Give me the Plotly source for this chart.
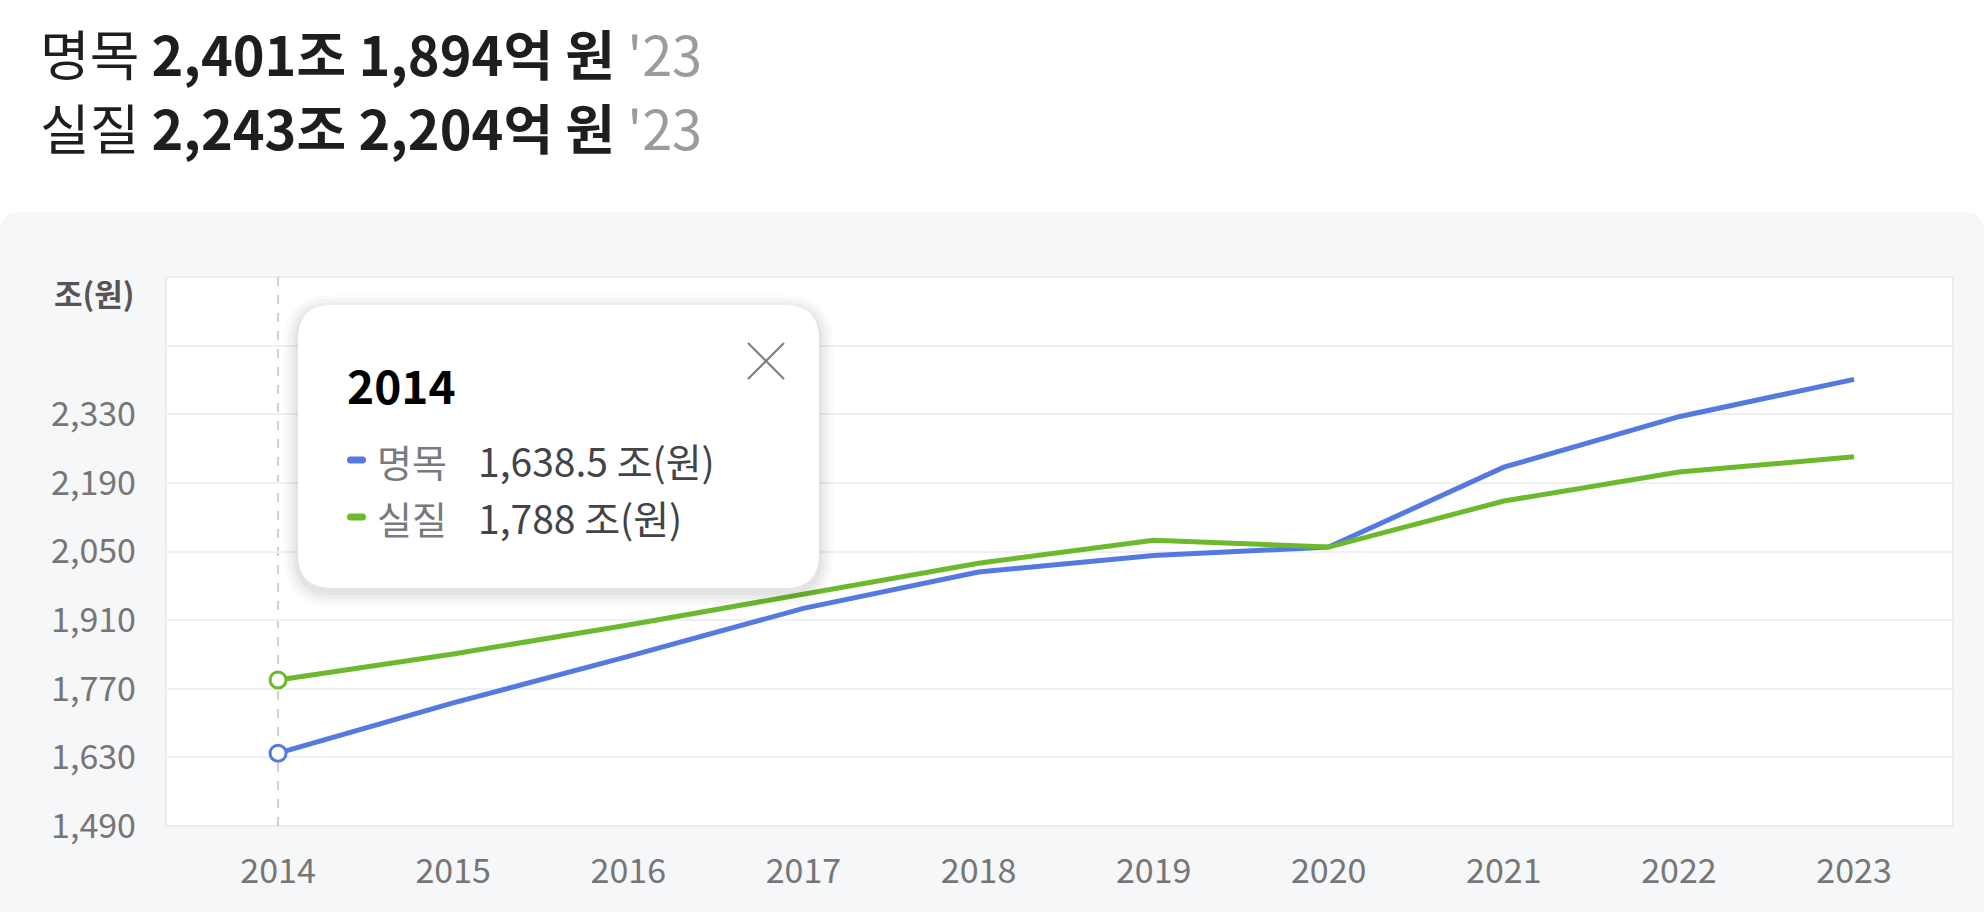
import plotly.graph_objects as go

# 연도별 GDP (조 원)
years = [2014, 2015, 2016, 2017, 2018, 2019, 2020, 2021, 2022, 2023]
nominal = [1638.5, 1741, 1836, 1934, 2008, 2042, 2059, 2222, 2325, 2401.2]
real = [1788, 1841, 1900, 1964, 2026, 2073, 2059, 2153, 2212, 2243.2]

y_ticks = [1490, 1630, 1770, 1910, 2050, 2190, 2330, 2470, 2610]
y_labels = ["1,490", "1,630", "1,770", "1,910", "2,050", "2,190", "2,330", "", ""]

header_1 = '명목 <b>2,401조 1,894억 원</b> <span style="color:#9b9b9b">\'23</span>'
header_2 = '실질 <b>2,243조 2,204억 원</b> <span style="color:#9b9b9b">\'23</span>'

BLUE = "#5479e0"
GREEN = "#6cb92c"
FONT = "Noto Sans CJK KR"

W, H = 1984, 912
L, R, T, B = 166, 1953, 277, 826


def px(x):
    return (x - L) / (R - L)


def py(y):
    return (B - y) / (B - T)


def round_rect(x0, y0, x1, y1, r, top_only=False):
    # 픽셀 좌표 -> paper 좌표의 둥근 사각형 path
    rx = r / (R - L)
    ry = r / (B - T)
    a, b, c, d = px(x0), py(y0), px(x1), py(y1)
    p = f"M {a + rx},{b} L {c - rx},{b} Q {c},{b} {c},{b - ry} "
    if top_only:
        p += f"L {c},{d} L {a},{d} "
    else:
        p += f"L {c},{d + ry} Q {c},{d} {c - rx},{d} L {a + rx},{d} Q {a},{d} {a},{d + ry} "
    p += f"L {a},{b - ry} Q {a},{b} {a + rx},{b} Z"
    return p


def fmt(v):
    return f"{v:,.1f}".rstrip("0").rstrip(".")


fig = go.Figure()

fig.add_trace(go.Scatter(x=years, y=nominal, mode="lines", name="명목",
                         line=dict(color=BLUE, width=5), hoverinfo="skip"))
fig.add_trace(go.Scatter(x=years, y=real, mode="lines", name="실질",
                         line=dict(color=GREEN, width=5), hoverinfo="skip"))
fig.add_trace(go.Scatter(x=[years[0], years[0]], y=[nominal[0], real[0]], mode="markers",
                         marker=dict(size=16, color="white",
                                     line=dict(color=[BLUE, GREEN], width=3)),
                         hoverinfo="skip"))

shapes = [
    # 회색 패널
    dict(type="path", xref="paper", yref="paper", layer="below",
         path=round_rect(0, 212, W, H + 20, 20, top_only=True),
         fillcolor="#f6f7f9", line=dict(width=0)),
    # 흰 플롯 영역
    dict(type="rect", xref="paper", yref="paper", layer="below",
         x0=0, x1=1, y0=0, y1=1, fillcolor="white", line=dict(color="#ededf0", width=2)),
    # 선택 연도 점선
    dict(type="line", xref="x", yref="paper", layer="below",
         x0=years[0], x1=years[0], y0=0, y1=1,
         line=dict(color="#cfcfd3", width=2, dash="dash")),
]

# 툴팁 그림자 + 박스
tx0, ty0, tx1, ty1 = 298, 305, 819, 588
for i, op in enumerate([0.018, 0.022, 0.028, 0.035]):
    g = 14 - i * 3.5
    shapes.append(dict(type="path", xref="paper", yref="paper", layer="above",
                       path=round_rect(tx0 - g, ty0 - g + 4, tx1 + g, ty1 + g + 4, 34 + g),
                       fillcolor=f"rgba(0,0,0,{op})", line=dict(width=0)))
shapes.append(dict(type="path", xref="paper", yref="paper", layer="above",
                   path=round_rect(tx0, ty0, tx1, ty1, 34),
                   fillcolor="white", line=dict(width=0)))
# 닫기 버튼
cx, cy, s = 766, 361, 18
shapes.append(dict(type="line", xref="paper", yref="paper", layer="above",
                   x0=px(cx - s), y0=py(cy - s), x1=px(cx + s), y1=py(cy + s),
                   line=dict(color="#7d7d7d", width=2)))
shapes.append(dict(type="line", xref="paper", yref="paper", layer="above",
                   x0=px(cx - s), y0=py(cy + s), x1=px(cx + s), y1=py(cy - s),
                   line=dict(color="#7d7d7d", width=2)))
# 범례 막대
row_y = [460, 517]
for yy, col in zip(row_y, [BLUE, GREEN]):
    shapes.append(dict(type="path", xref="paper", yref="paper", layer="above",
                       path=round_rect(347, yy - 3.5, 366, yy + 3.5, 3.5),
                       fillcolor=col, line=dict(width=0)))

annotations = [
    dict(text=header_1, x=px(38), y=py(53), xanchor="left", yanchor="middle",
         font=dict(size=54, color="#1e1e1e", family=FONT)),
    dict(text=header_2, x=px(38), y=py(127), xanchor="left", yanchor="middle",
         font=dict(size=54, color="#1e1e1e", family=FONT)),
    dict(text="<b>조(원)</b>", x=px(136), y=py(292), xanchor="right", yanchor="middle",
         font=dict(size=31, color="#555555", family=FONT)),
    dict(text=f"<b>{years[0]}</b>", x=px(345), y=py(384), xanchor="left", yanchor="middle",
         font=dict(size=46, color="#000000", family=FONT)),
]
for yy, name, vals in zip(row_y, ["명목", "실질"], [nominal, real]):
    annotations.append(dict(text=name, x=px(375), y=py(yy), xanchor="left", yanchor="middle",
                            font=dict(size=38, color="#7a7a7e", family=FONT)))
    annotations.append(dict(text=f"{fmt(vals[0])} 조(원)", x=px(476), y=py(yy),
                            xanchor="left", yanchor="middle",
                            font=dict(size=39, color="#444448", family=FONT)))
for a in annotations:
    a.update(xref="paper", yref="paper", showarrow=False)

fig.update_layout(
    width=W, height=H,
    margin=dict(l=L, r=W - R, t=T, b=H - B),
    paper_bgcolor="white", plot_bgcolor="white",
    showlegend=False,
    font=dict(family=FONT),
    shapes=shapes,
    annotations=annotations,
    xaxis=dict(range=[2013.36, 2023.565], tickvals=years, ticktext=[str(y) for y in years],
               showgrid=False, zeroline=False, showline=False, ticks="",
               ticklabelstandoff=22, tickfont=dict(size=34, color="#767676")),
    yaxis=dict(range=[1490, 2610], tickvals=y_ticks, ticktext=y_labels,
               showgrid=True, gridcolor="#f0f0f2", gridwidth=2, zeroline=False,
               showline=False, ticks="", ticklabelstandoff=29,
               tickfont=dict(size=34, color="#767676")),
)

fig.write_html("out.html", config={"displayModeBar": False},
               post_script="document.body.style.margin = '0';")
